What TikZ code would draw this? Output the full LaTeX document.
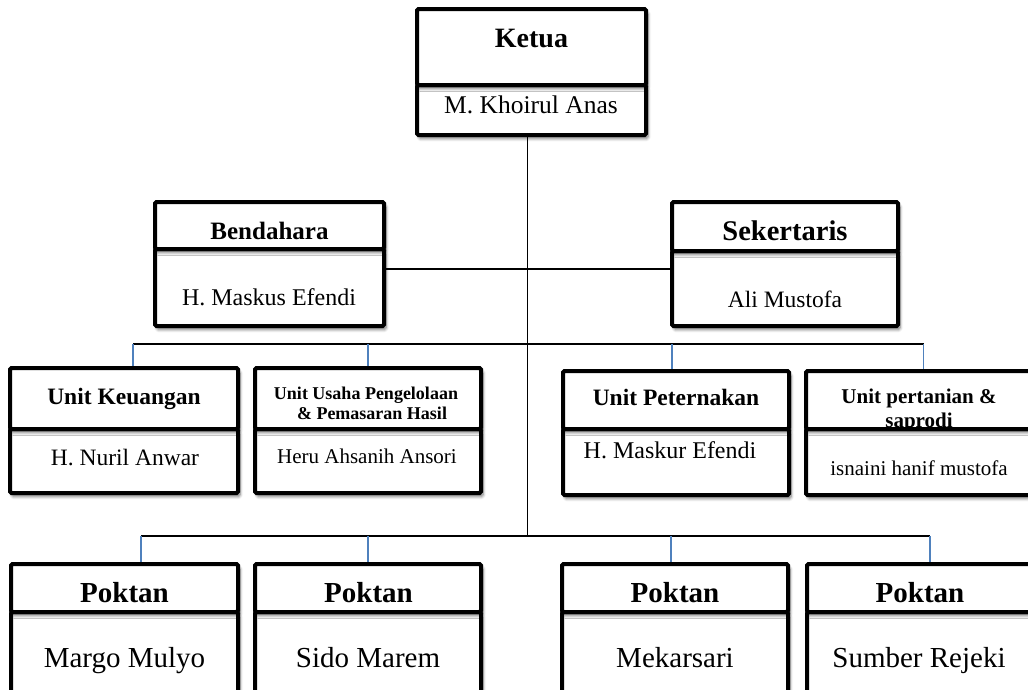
\documentclass[tikz,border=0pt]{standalone}
\usepackage{fontspec}
\setmainfont{Liberation Serif}
\usetikzlibrary{shadows.blur}
\definecolor{conblue}{HTML}{4F81BD}
\pgfdeclarelayer{background}
\pgfsetlayers{background,main}
\tikzset{
  cell/.style={draw=black, line width=4pt, fill=white, rounded corners=1.5pt,
    inner sep=0pt, outer sep=0pt,
    blur shadow={shadow xshift=2pt, shadow yshift=-3.5pt, shadow blur radius=3pt,
      shadow blur steps=6, shadow opacity=55}},
  txt/.style={inner sep=0pt, anchor=base},
  bus/.style={draw=black, line width=1.8pt},
  dropline/.style={draw=conblue, line width=1.3pt},
}
\newcommand{\fsz}[1]{\fontsize{#1}{#1}\selectfont}
\begin{document}
\begin{tikzpicture}[x=1pt, y=-1pt]
\useasboundingbox (0,0) rectangle (1028,689);

% ---------- connector coordinates ----------
\coordinate (trunkend) at (527.5,536);
\coordinate (mid) at (527.5,269);
\coordinate (busL) at (133,344);
\coordinate (busR) at (923.5,344);
\coordinate (u1) at (133,344);
\coordinate (u2) at (368,344);
\coordinate (u3) at (672,344);
\coordinate (u4) at (923.5,344);
\coordinate (pL) at (141,536);
\coordinate (pR) at (930,536);
\coordinate (p1) at (141,536);
\coordinate (p2) at (368,536);
\coordinate (p3) at (671,536);
\coordinate (p4) at (930,536);

% ---------- Ketua ----------
\node[cell, minimum width=229pt, minimum height=50pt] (ketua-n) at (531.5,110) {};
\node[cell, minimum width=229pt, minimum height=76pt] (ketua-t) at (531.5,47) {};
\node[txt, font=\bfseries\fsz{28}] (ketua-tl) at (531.5,47) {Ketua};
\node[txt, font=\fsz{25.5}] (ketua-nl) at (531,113) {M. Khoirul Anas};

% ---------- Bendahara ----------
\node[cell, minimum width=229pt, minimum height=77pt] (bend-n) at (269.5,287.5) {};
\node[cell, minimum width=229pt, minimum height=47pt] (bend-t) at (269.5,225.5) {};
\node[txt, font=\bfseries\fsz{25}] (bend-tl) at (269.5,239) {Bendahara};
\node[txt, font=\fsz{24}] (bend-nl) at (269,305) {H. Maskus Efendi};

% ---------- Sekertaris ----------
\node[cell, minimum width=226pt, minimum height=75pt] (sek-n) at (785,288.5) {};
\node[cell, minimum width=226pt, minimum height=49pt] (sek-t) at (785,226.5) {};
\node[txt, font=\bfseries\fsz{28.5}] (sek-tl) at (785,240) {Sekertaris};
\node[txt, font=\fsz{23.5}] (sek-nl) at (785,307) {Ali Mustofa};

% ---------- Unit Keuangan ----------
\node[cell, minimum width=228pt, minimum height=64pt] (uk-n) at (124,461) {};
\node[cell, minimum width=228pt, minimum height=61pt] (uk-t) at (124,398.5) {};
\node[txt, font=\bfseries\fsz{23.5}] (uk-tl) at (124,404) {Unit Keuangan};
\node[txt, font=\fsz{23.5}] (uk-nl) at (125,465) {H. Nuril Anwar};

% ---------- Unit Usaha ----------
\node[cell, minimum width=226pt, minimum height=64pt] (uu-n) at (368,461) {};
\node[cell, minimum width=226pt, minimum height=61pt] (uu-t) at (368,398.5) {};
\node[txt, font=\bfseries\fsz{18}] (uu-tl1) at (366,399) {Unit Usaha Pengelolaan};
\node[txt, font=\bfseries\fsz{18}] (uu-tl2) at (372,419) {\& Pemasaran Hasil};
\node[txt, font=\fsz{21}] (uu-nl) at (367,463) {Heru Ahsanih Ansori};

% ---------- Unit Peternakan ----------
\node[cell, minimum width=226pt, minimum height=66pt] (up-n) at (676,462) {};
\node[cell, minimum width=226pt, minimum height=58pt] (up-t) at (676,400) {};
\node[txt, font=\bfseries\fsz{23.5}] (up-tl) at (676,405) {Unit Peternakan};
\node[txt, font=\fsz{24}] (up-nl) at (670,458) {H. Maskur Efendi};

% ---------- Unit pertanian ----------
\node[cell, minimum width=226pt, minimum height=66pt] (ut-n) at (919,462) {};
\node[cell, minimum width=226pt, minimum height=58pt] (ut-t) at (919,400) {};
\begin{scope}
\clip ([xshift=2pt,yshift=-2pt]ut-t.north west) rectangle ([xshift=-2pt,yshift=2pt]ut-t.south east);
\node[txt, font=\bfseries\fsz{21}] (ut-tl1) at (919,403) {Unit pertanian \&};
\node[txt, font=\bfseries\fsz{21}] (ut-tl2) at (919,427) {saprodi};
\end{scope}
\node[txt, font=\fsz{21}] (ut-nl) at (919,475) {isnaini hanif mustofa};

% ---------- Poktan row ----------
\node[cell, minimum width=227pt, minimum height=106pt] (pk1-n) at (124.5,665) {};
\node[cell, minimum width=227pt, minimum height=48pt] (pk1-t) at (124.5,588) {};
\node[txt, font=\bfseries\fsz{29}] (pk1-tl) at (124.5,602) {Poktan};
\node[txt, font=\fsz{29}] (pk1-nl) at (124.5,667) {Margo Mulyo};

\node[cell, minimum width=226pt, minimum height=106pt] (pk2-n) at (368,665) {};
\node[cell, minimum width=226pt, minimum height=48pt] (pk2-t) at (368,588) {};
\node[txt, font=\bfseries\fsz{29}] (pk2-tl) at (368.5,602) {Poktan};
\node[txt, font=\fsz{29}] (pk2-nl) at (368,667) {Sido Marem};

\node[cell, minimum width=226pt, minimum height=106pt] (pk3-n) at (675,665) {};
\node[cell, minimum width=226pt, minimum height=48pt] (pk3-t) at (675,588) {};
\node[txt, font=\bfseries\fsz{29}] (pk3-tl) at (675,602) {Poktan};
\node[txt, font=\fsz{29}] (pk3-nl) at (675,667) {Mekarsari};

\node[cell, minimum width=226pt, minimum height=106pt] (pk4-n) at (920,665) {};
\node[cell, minimum width=226pt, minimum height=48pt] (pk4-t) at (920,588) {};
\node[txt, font=\bfseries\fsz{29}] (pk4-tl) at (920,602) {Poktan};
\node[txt, font=\fsz{29}] (pk4-nl) at (919,667) {Sumber Rejeki};

% ---------- connectors (behind the boxes) ----------
\begin{pgfonlayer}{background}
\draw[bus] (trunkend |- ketua-n.south) -- (trunkend);
\draw[bus] (mid -| bend-n.east) -- (mid -| sek-n.west);
\draw[bus] (busL) -- (busR);
\draw[bus] (pL) -- (pR);
\draw[dropline] (u1) -- (u1 |- uk-t.north);
\draw[dropline] (u2) -- (u2 |- uu-t.north);
\draw[dropline] (u3) -- (u3 |- up-t.north);
\draw[dropline] (u4) -- (u4 |- ut-t.north);
\draw[dropline] (p1) -- (p1 |- pk1-t.north);
\draw[dropline] (p2) -- (p2 |- pk2-t.north);
\draw[dropline] (p3) -- (p3 |- pk3-t.north);
\draw[dropline] (p4) -- (p4 |- pk4-t.north);
\end{pgfonlayer}
\end{tikzpicture}
\end{document}
